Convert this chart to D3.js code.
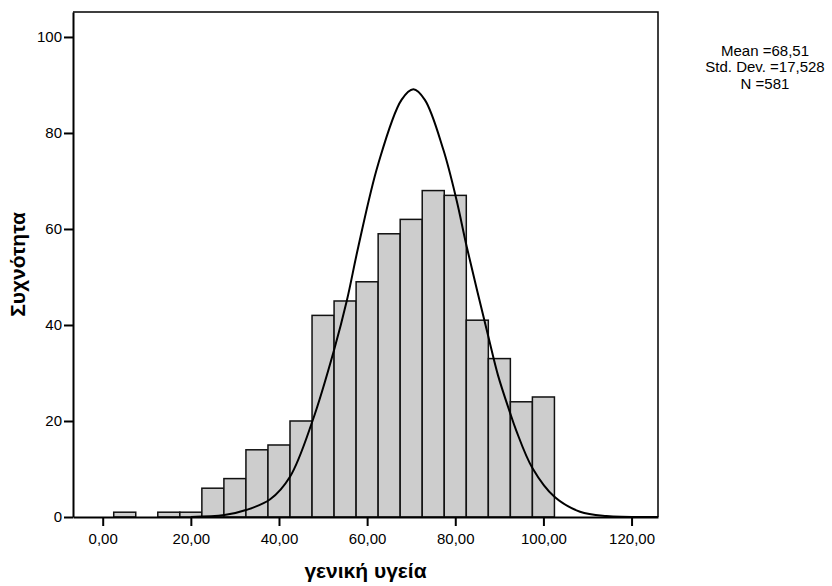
<!DOCTYPE html>
<html>
<head>
<meta charset="utf-8">
<script src="https://cdn.jsdelivr.net/npm/d3@7/dist/d3.min.js"></script>
<style>
  body { margin: 0; background: #fff; }
  text { font-family: "Liberation Sans", Arial, sans-serif; }
</style>
</head>
<body>
<svg width="832" height="586"></svg>
<script>
// histogram bins (centre of each 5-wide bin) and frequencies
const binCenters = [5, 10, 15, 20, 25, 30, 35, 40, 45, 50, 55, 60, 65, 70, 75, 80, 85, 90, 95, 100];
const counts = [1, 0, 1, 1, 6, 8, 14, 15, 20, 42, 45, 49, 59, 62, 68, 67, 41, 33, 24, 25];
const binWidth = 5;

// normal curve, points
const curveX = [20, 27.6, 32.7, 38, 42.5, 47.6, 52.5, 55.4, 58.0, 62.5, 67.8, 70.5, 73.1, 77.3, 80.3, 82.6, 87.5, 89.7, 92.4, 93.8, 97.5, 102.5, 108.3, 114.3, 126];
const curveY = [0, 0.4, 1.5, 3.7, 8.4, 20, 34.8, 45.1, 56.3, 73.5, 86.9, 89.1, 86.9, 76.5, 66, 56.3, 37.6, 29.5, 21.8, 18.1, 10.2, 4.2, 1.1, 0.2, 0];

const xTicks = [0, 20, 40, 60, 80, 100, 120];
const yTicks = [0, 20, 40, 60, 80, 100];
const statsLines = ['Mean =68,51', 'Std. Dev. =17,528', 'N =581'];
const xTitle = 'γενική υγεία';
const yTitle = 'Συχνότητα';

const svg = d3.select('svg');

const plotLeft = 73, plotRight = 658, plotTop = 12, plotBottom = 517;

const x = d3.scaleLinear().domain([-6.74, 126]).range([plotLeft, plotRight]);
const y = d3.scaleLinear().domain([0, 105.2]).range([plotBottom, plotTop]);

// bars
svg.append('g')
  .selectAll('rect')
  .data(binCenters.map((c, i) => ({ c: c, n: counts[i] })).filter(d => d.n > 0))
  .join('rect')
  .attr('x', d => x(d.c - binWidth / 2))
  .attr('y', d => y(d.n))
  .attr('width', d => x(d.c + binWidth / 2) - x(d.c - binWidth / 2))
  .attr('height', d => y(0) - y(d.n))
  .attr('fill', '#cdcdcd')
  .attr('stroke', '#111')
  .attr('stroke-width', 1.5);

// curve
const line = d3.line()
  .x(d => x(d[0]))
  .y(d => Math.min(y(d[1]), plotBottom))
  .curve(d3.curveCatmullRom.alpha(0.5));

svg.append('path')
  .attr('d', line(curveX.map((v, i) => [v, curveY[i]])))
  .attr('fill', 'none')
  .attr('stroke', '#000')
  .attr('stroke-width', 2);

// frame top / right
svg.append('path')
  .attr('d', `M${plotLeft},${plotTop}H${plotRight}V${plotBottom}`)
  .attr('fill', 'none')
  .attr('stroke', '#000')
  .attr('stroke-width', 1.5);

// axes
const xAxis = svg.append('g')
  .attr('transform', `translate(0,${plotBottom})`)
  .call(d3.axisBottom(x).tickValues(xTicks).tickSize(9).tickSizeOuter(0).tickPadding(7)
    .tickFormat(d => d.toFixed(2).replace('.', ',')));

const yAxis = svg.append('g')
  .attr('transform', `translate(${plotLeft},0)`)
  .call(d3.axisLeft(y).tickValues(yTicks).tickSize(9).tickSizeOuter(0).tickPadding(2));

[xAxis, yAxis].forEach(a => {
  a.select('.domain').attr('stroke', '#000').attr('stroke-width', 2);
  a.selectAll('.tick line').attr('stroke', '#000').attr('stroke-width', 2);
  a.selectAll('.tick text')
    .attr('fill', '#000')
    .style('font-size', '15px')
    .style('font-family', '"Liberation Sans", Arial, sans-serif');
});

// axis titles
svg.append('text')
  .attr('x', (plotLeft + plotRight) / 2)
  .attr('y', 578)
  .attr('text-anchor', 'middle')
  .style('font-size', '21px')
  .style('font-weight', 'bold')
  .text(xTitle);

svg.append('text')
  .attr('transform', `translate(25,${(plotTop + plotBottom) / 2}) rotate(-90)`)
  .attr('text-anchor', 'middle')
  .style('font-size', '21px')
  .style('font-weight', 'bold')
  .text(yTitle);

// stats box
svg.append('g')
  .selectAll('text')
  .data(statsLines)
  .join('text')
  .attr('x', 765)
  .attr('y', (d, i) => 55.5 + i * 16.5)
  .attr('text-anchor', 'middle')
  .style('font-size', '15px')
  .text(d => d);
</script>
</body>
</html>
